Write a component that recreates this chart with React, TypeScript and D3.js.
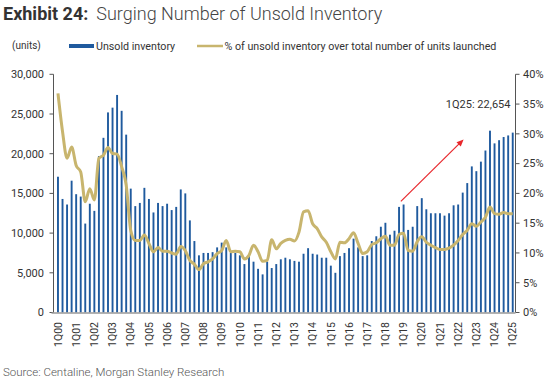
import React from "react";
import * as d3 from "d3";

const quarters: string[] = [];
for (let y = 0; y <= 25; y++) {
  for (let q = 1; q <= 4; q++) {
    if (y === 25 && q > 1) break;
    quarters.push(`${q}Q${String(y).padStart(2, "0")}`);
  }
}

// Unsold inventory (units)
const unsold: number[] = [
  17100, 14300, 13600, 16600, 14900, 14600, 11200, 13700, 12800, 19700,
  22000, 25200, 25800, 27400, 25400, 22400, 15600, 13400, 13800, 15700,
  14300, 12600, 13800, 13400, 13700, 12900, 13300, 15500, 15000, 11600,
  9000, 7200, 7500, 7500, 7600, 8200, 8800, 8200, 7500, 7500,
  7200, 6100, 7300, 6400, 5500, 4800, 6400, 5600, 6100, 6700,
  6900, 6700, 6500, 6400, 7400, 8100, 7400, 7300, 6900, 6900,
  5900, 5000, 7100, 7500, 8100, 9300, 8200, 7100, 7200, 9000,
  9600, 10800, 11300, 9800, 10300, 13300, 13600, 10400, 10800, 13400,
  14400, 13000, 12500, 12500, 12500, 12200, 12500, 13500, 13600, 15100,
  16300, 18400, 17800, 19000, 20400, 22900, 21300, 21700, 22100, 22300,
  22654,
];

// % of unsold inventory over total number of units launched
const pctUnsold: number[] = [
  36.8, 30.4, 25.9, 27.8, 24.7, 23.6, 18.6, 20.8, 18.9, 25.9,
  26.4, 27.7, 26.7, 26.6, 24.5, 21.4, 13.8, 12.1, 12.1, 13.0,
  11.6, 10.2, 10.9, 10.3, 10.3, 10.0, 9.8, 11.1, 10.4, 8.75,
  8.1, 7.2, 8.2, 8.5, 9.0, 9.9, 10.4, 12.1, 10.2, 10.3,
  10.2, 9.0, 9.6, 11.3, 10.2, 8.6, 8.75, 12.2, 10.7, 11.6,
  12.1, 12.3, 12.0, 13.5, 16.9, 17.1, 14.9, 14.1, 12.7, 11.8,
  10.2, 9.0, 11.8, 11.7, 12.4, 13.4, 11.6, 9.9, 10.2, 11.4,
  11.7, 12.4, 12.8, 11.3, 11.3, 13.1, 13.3, 10.4, 10.3, 11.9,
  12.7, 11.8, 11.3, 10.9, 10.6, 10.6, 10.8, 11.3, 12.1, 13.1,
  13.8, 14.9, 14.5, 15.2, 16.0, 17.7, 16.6, 16.5, 16.8, 16.6,
  16.6,
];

const leftTicks: number[] = [0, 5000, 10000, 15000, 20000, 25000, 30000];
const rightTicks: number[] = [0, 5, 10, 15, 20, 25, 30, 35, 40];

// annotation arrow in data terms: [index, units]
const arrowFrom: [number, number] = [75.4, 14000];
const arrowTo: [number, number] = [89.2, 21800];
const noteAnchor: [number, number] = [99.5, 25700];
const noteText = "1Q25: 22,654";

const FONT = "Roboto, 'Open Sans', sans-serif";

export default function App() {
  const W = 550;
  const H = 385;
  const x = d3
    .scaleBand<number>()
    .domain(d3.range(quarters.length))
    .range([55.7, 515])
    .paddingInner(0);
  const xc = (i: number) => (x(Math.floor(i)) ?? 0) + x.bandwidth() / 2 + (i - Math.floor(i)) * x.step();
  const y = d3.scaleLinear().domain([0, 30000]).range([312.5, 74.3]);
  const y2 = d3.scaleLinear().domain([0, 40]).range([312.5, 74.3]);

  const line = d3
    .line<number>()
    .x((_, i) => xc(i))
    .y((d) => y2(d))
    .curve(d3.curveMonotoneX);

  const barW = 1.9;
  const fmt = d3.format(",");

  const ax1 = 53.5;
  const ax2 = 515.5;

  const [fx, fy] = [xc(arrowFrom[0]), y(arrowFrom[1])];
  const [tx, ty] = [xc(arrowTo[0]), y(arrowTo[1])];
  const ang = Math.atan2(ty - fy, tx - fx);
  const hl = 7, hw = 3;
  const head = [
    [tx, ty],
    [tx - hl * Math.cos(ang) + hw * Math.sin(ang), ty - hl * Math.sin(ang) - hw * Math.cos(ang)],
    [tx - hl * Math.cos(ang) - hw * Math.sin(ang), ty - hl * Math.sin(ang) + hw * Math.cos(ang)],
  ];

  return (
    <svg
      width={W}
      height={H}
      style={{ position: "absolute", left: 0, top: 0, background: "#fff" }}
      fontFamily={FONT}
    >
      <text x={3} y={19.5} fontSize={18} fill="#333">
        <tspan fontWeight={700}>Exhibit 24:</tspan>
        <tspan dx={8} fontWeight={300} fill="#444">Surging Number of Unsold Inventory</tspan>
      </text>

      <text x={12} y={49} fontSize={10} fill="#333">(units)</text>
      <rect x={69} y={44} width={25} height={4} fill="#1f5a9e" />
      <text x={96} y={50} fontSize={10.7} fill="#333">Unsold inventory</text>
      <line x1={197} x2={223} y1={46} y2={46} stroke="#c8b56e" strokeWidth={2.5} />
      <text x={224.5} y={50} fontSize={10.7} fill="#333">% of unsold inventory over total number of units launched</text>

      {/* bars */}
      {unsold.map((v, i) => (
        <rect
          key={i}
          x={xc(i) - barW / 2}
          y={y(v)}
          width={barW}
          height={y(0) - y(v)}
          fill="#1f5a9e"
        />
      ))}

      {/* line */}
      <path d={line(pctUnsold) ?? ""} fill="none" stroke="#c8b56e" strokeWidth={3} strokeLinejoin="round" />

      {/* left axis */}
      <line x1={ax1} x2={ax1} y1={y(30000)} y2={y(0)} stroke="#555" strokeWidth={1} />
      {leftTicks.map((t) => (
        <g key={t}>
          <line x1={ax1 - 4} x2={ax1} y1={y(t)} y2={y(t)} stroke="#555" />
          <text x={44} y={y(t)} dy="0.35em" textAnchor="end" fontSize={11} fill="#333">
            {fmt(t)}
          </text>
        </g>
      ))}

      {/* right axis */}
      <line x1={ax2} x2={ax2} y1={y2(40)} y2={y2(0)} stroke="#555" strokeWidth={1} />
      {rightTicks.map((t) => (
        <g key={t}>
          <line x1={ax2} x2={ax2 + 4} y1={y2(t)} y2={y2(t)} stroke="#555" />
          <text x={523} y={y2(t)} dy="0.35em" textAnchor="start" fontSize={11} fill="#333">
            {t}%
          </text>
        </g>
      ))}

      {/* bottom axis */}
      <line x1={51.5} x2={ax2} y1={y(0) + 0.5} y2={y(0) + 0.5} stroke="#999" strokeWidth={1.5} />
      {quarters.map((q, i) =>
        i % 4 === 0 ? (
          <text
            key={q}
            transform={`translate(${xc(i)},322) rotate(-90)`}
            textAnchor="end"
            dy="0.35em"
            fontSize={10.5}
            fill="#333"
          >
            {q}
          </text>
        ) : null
      )}

      {/* annotation */}
      <line x1={fx} y1={fy} x2={tx - 5 * Math.cos(ang)} y2={ty - 5 * Math.sin(ang)} stroke="#e8262b" strokeWidth={1.2} />
      <polygon points={head.map((p) => p.join(",")).join(" ")} fill="#e8262b" />
      <text x={xc(noteAnchor[0])} y={y(noteAnchor[1])} textAnchor="end" fontSize={11} fill="#333">
        {noteText}
      </text>

      <text x={3} y={376} fontSize={11.5} fill="#555" fontWeight={300}>
        Source: Centaline, Morgan Stanley Research
      </text>
    </svg>
  );
}
